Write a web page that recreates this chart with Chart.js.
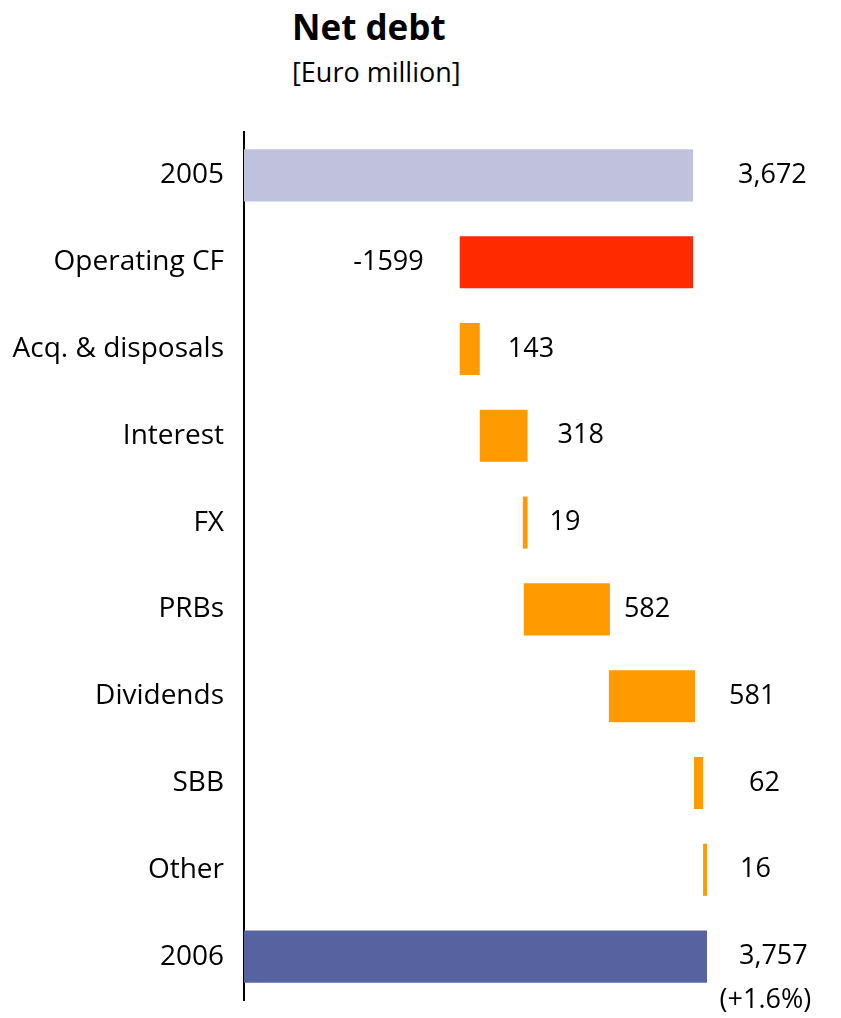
<!DOCTYPE html>
<html>
<head>
<meta charset="utf-8">
<script src="https://cdn.jsdelivr.net/npm/chart.js@4"></script>
<style>
  html, body { margin: 0; padding: 0; background: #fff; }
  #wrap { position: relative; width: 841px; height: 1018px; font-family: "Open Sans", sans-serif; }
  #title { position: absolute; left: 292px; top: 3px; font-size: 35px; font-weight: bold; color: #000; }
  #subtitle { position: absolute; left: 292px; top: 53px; font-size: 27px; color: #000; }
  canvas { position: absolute; left: 0; top: 0; }
</style>
</head>
<body>
<div id="wrap">
  <div id="title">Net debt</div>
  <div id="subtitle">[Euro million]</div>
  <canvas id="chart" width="841" height="1018"></canvas>
</div>
<script>
// Categories (top to bottom)
const categories = ['2005', 'Operating CF', 'Acq. & disposals', 'Interest', 'FX', 'PRBs', 'Dividends', 'SBB', 'Other', '2006'];
// Bar start / end (Euro million)
const barStart = [0, 1764, 1764, 1928, 2280, 2288, 2984, 3680, 3754, 0];
const barEnd = [3672, 3672, 1928, 2319, 2319, 2992, 3688, 3754, 3786, 3786];
// Printed value labels
const valueLabels = ['3,672', '-1599', '143', '318', '19', '582', '581', '62', '16', '3,757'];
const changeLabel = '(+1.6%)';

const colors = ['#c0c2dd', '#ff2a00', '#ff9a00', '#ff9a00', '#ff9a00', '#ff9a00', '#ff9a00', '#ff9a00', '#ff9a00', '#5763a1'];
// gap between bar and its label, px (negative = label on the left)
const labelGap = [45, -36, 28, 30, 22, 14, 34, 46, 33, 32];

const FONT = '27px "Open Sans", sans-serif';

const valueLabelPlugin = {
    id: 'valueLabels',
    afterDatasetsDraw(chart) {
        const ctx = chart.ctx;
        const meta = chart.getDatasetMeta(0);
        ctx.save();
        ctx.font = FONT;
        ctx.fillStyle = '#000';
        ctx.textBaseline = 'middle';
        meta.data.forEach(function (bar, i) {
            const gap = labelGap[i];
            const right = Math.max(bar.x, bar.base);
            const left = Math.min(bar.x, bar.base);
            if (gap < 0) {
                ctx.textAlign = 'right';
                ctx.fillText(valueLabels[i], left + gap, bar.y);
            } else {
                ctx.textAlign = 'left';
                ctx.fillText(valueLabels[i], right + gap, bar.y);
            }
            if (i === meta.data.length - 1) {
                const w = ctx.measureText(valueLabels[i]).width;
                ctx.textAlign = 'center';
                ctx.fillText(changeLabel, right + gap + w / 2 - 8, bar.y + 44);
            }
        });
        ctx.restore();
    }
};

new Chart(document.getElementById('chart').getContext('2d'), {
    type: 'bar',
    data: {
        labels: categories,
        datasets: [{
            data: categories.map(function (c, i) { return [barStart[i], barEnd[i]]; }),
            backgroundColor: colors,
            borderWidth: 0,
            barPercentage: 1,
            categoryPercentage: 0.6
        }]
    },
    options: {
        indexAxis: 'y',
        responsive: false,
        animation: false,
        layout: { padding: { top: 132, bottom: 18, left: 0, right: 10 } },
        plugins: { legend: { display: false }, tooltip: { enabled: false } },
        scales: {
            x: {
                display: false,
                min: 0,
                max: 4800
            },
            y: {
                afterFit: function (scale) {
                    scale.width = 244;
                    scale.paddingTop = 0;
                    scale.paddingBottom = 0;
                },
                grid: { display: false, drawTicks: false },
                border: { display: true, color: '#000', width: 2 },
                ticks: {
                    color: '#000',
                    padding: 20,
                    font: { family: '"Open Sans", sans-serif', size: 28 }
                }
            }
        }
    },
    plugins: [valueLabelPlugin]
});
</script>
</body>
</html>
